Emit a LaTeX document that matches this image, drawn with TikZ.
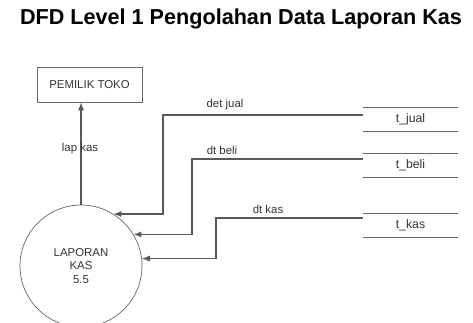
\documentclass[tikz,border=0pt]{standalone}
\usepackage{fontspec}
\setmainfont{Liberation Sans}
\usetikzlibrary{calc,arrows.meta}

\begin{document}
\begin{tikzpicture}[x=0.02cm, y=-0.02cm,
   every node/.style={font=\fontsize{6.5}{7.5}\selectfont, text=black!80},
   entitas/.style={draw=black!60, minimum width=2.1cm, minimum height=0.7cm},
   proses/.style={draw=black!60, circle, minimum size=2.44cm, align=center, inner sep=0pt},
   gudang/.style={minimum width=1.9cm, minimum height=0.42cm, font=\fontsize{7}{8}\selectfont},
   alir/.style={draw=black!65, line width=0.6pt, -{Latex[length=4.5pt,width=3.5pt]}}]

\useasboundingbox (0,0) rectangle (473,322);

\node[font=\bfseries\fontsize{12.3}{14}\selectfont, text=black] (judul) at (241,19) {DFD Level 1 Pengolahan Data Laporan Kas};

\node[entitas] (pemilik) at (89.5,84.5) {PEMILIK TOKO};
\node[proses] (laporan) at (81,266) {LAPORAN\\KAS\\5.5};

\node[gudang] (tjual) at (410.5,119) {t\_jual};
\node[gudang] (tbeli) at (410.5,165) {t\_beli};
\node[gudang] (tkas) at (410.5,225) {t\_kas};
\foreach \g in {tjual,tbeli,tkas}{
  \draw[black!60] (\g.north west) -- (\g.north east);
  \draw[black!60] (\g.south west) -- (\g.south east);
}

% aliran data
\draw[alir] (laporan.north) -- (laporan.north |- pemilik.south);
\draw[alir] ($(tjual.west)+(0,-4)$) -- (163,115) |- (laporan.58);
\draw[alir] ($(tbeli.west)+(0,-6)$) -- (192,159) |- (laporan.31);
\draw[alir] ($(tkas.west)+(0,-7)$) -- (216,218) |- (laporan.7);

\node (llap) at (80,149) {lap kas};
\node (ljual) at (225,105) {det jual};
\node (lbeli) at (222,150) {dt beli};
\node (lkas) at (268,209) {dt kas};

\end{tikzpicture}
\end{document}
